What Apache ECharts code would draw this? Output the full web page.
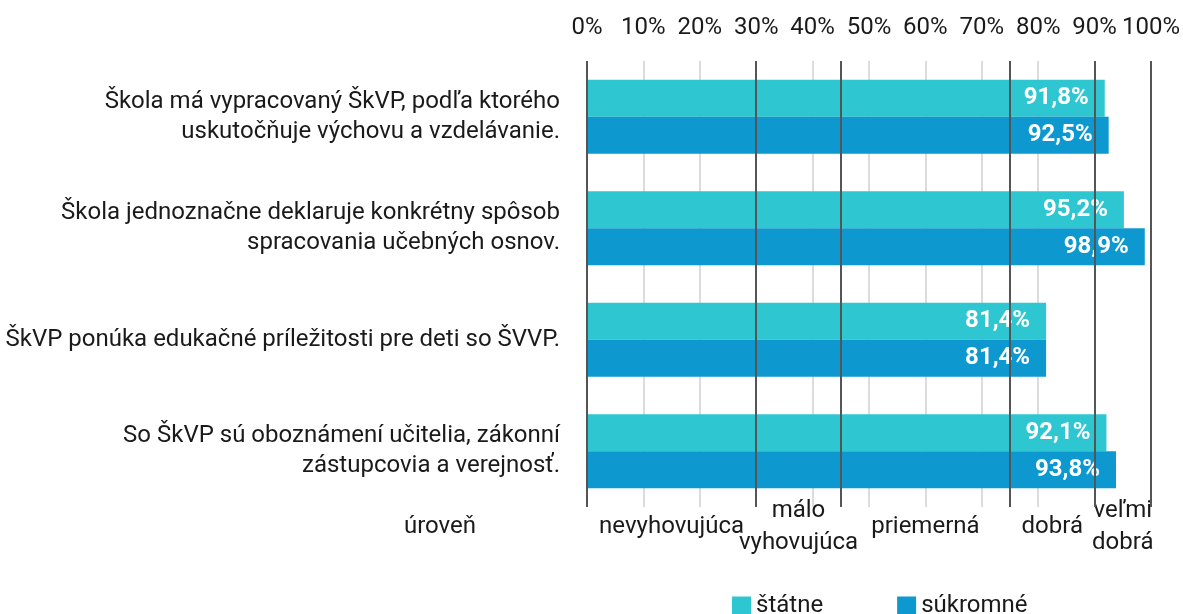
<!DOCTYPE html>
<html>
<head>
<meta charset="utf-8">
<style>
  html, body { margin: 0; padding: 0; background: #fff; }
  #chart { width: 1183px; height: 614px; }
</style>
<script src="https://cdn.jsdelivr.net/npm/echarts@6/dist/echarts.min.js"></script>
</head>
<body>
<div id="chart"></div>
<script>
var categories = [
  'Škola má vypracovaný ŠkVP, podľa ktorého\nuskutočňuje výchovu a vzdelávanie.',
  'Škola jednoznačne deklaruje konkrétny spôsob\nspracovania učebných osnov.',
  'ŠkVP ponúka edukačné príležitosti pre deti so ŠVVP.',
  'So ŠkVP sú oboznámení učitelia, zákonní\nzástupcovia a verejnosť.'
];
var statneValues = [91.8, 95.2, 81.4, 92.1];
var sukromneValues = [92.5, 98.9, 81.4, 93.8];
var thresholds = [0, 30, 45, 75, 90, 100];
var levelNames = ['nevyhovujúca', 'málo\nvyhovujúca', 'priemerná', 'dobrá', 'veľmi\ndobrá'];
var levelCenters = [15, 37.5, 60, 82.5, 95];

var FONT = 'Roboto';
var chart = echarts.init(document.getElementById('chart'));

function fmtPct(v) {
  return v.toFixed(1).replace('.', ',') + '%';
}

// level labels split over two bottom axes so neighbours are not dropped as overlapping
function levelAxis(values) {
  return {
    type: 'value',
    position: 'bottom',
    min: 0,
    max: 100,
    axisLine: { show: false },
    axisTick: { show: false },
    splitLine: { show: false },
    axisLabel: {
      customValues: values,
      formatter: function (v) {
        var i = levelCenters.indexOf(v);
        return i >= 0 ? levelNames[i] : '';
      },
      fontSize: 24,
      lineHeight: 32,
      color: '#1a1a1a',
      verticalAlign: 'middle',
      margin: 20
    }
  };
}

var option = {
  animation: false,
  textStyle: { fontFamily: FONT },
  grid: { left: 587, right: 30, top: 61, bottom: 107, containLabel: false },
  legend: {
    data: ['štátne', 'súkromné'],
    left: 727,
    top: 589,
    icon: 'rect',
    itemWidth: 19,
    itemHeight: 19,
    itemGap: 74,
    textStyle: { fontSize: 24, color: '#1a1a1a', fontFamily: FONT }
  },
  xAxis: [{
    type: 'value',
    position: 'top',
    min: 0,
    max: 100,
    interval: 10,
    axisLine: { show: false },
    axisTick: { show: false },
    axisLabel: { formatter: '{value}%', fontSize: 24, color: '#1a1a1a', margin: 21 },
    splitLine: { show: true, lineStyle: { color: '#dcdcdc', width: 2 } }
  },
    levelAxis([levelCenters[0], levelCenters[2], levelCenters[4]]),
    levelAxis([levelCenters[1], levelCenters[3]])
  ],
  yAxis: {
    type: 'category',
    inverse: true,
    data: categories,
    axisLine: { show: false },
    axisTick: { show: false },
    axisLabel: { fontSize: 24, lineHeight: 30, color: '#1a1a1a', align: 'right', margin: 27 }
  },
  graphic: [{
    type: 'text',
    x: 440,
    y: 527,
    style: {
      text: 'úroveň',
      font: '24px ' + FONT,
      fill: '#1a1a1a',
      textAlign: 'center',
      textVerticalAlign: 'middle'
    }
  }],
  series: [{
    name: 'štátne',
    type: 'bar',
    data: statneValues,
    barWidth: 37,
    barGap: '0%',
    itemStyle: { color: '#2ec6d1' },
    label: {
      show: true,
      position: 'insideRight',
      distance: 16,
      color: '#fff',
      fontSize: 24,
      fontWeight: 'bold',
      formatter: function (p) { return fmtPct(p.value); }
    }
  }, {
    name: 'súkromné',
    type: 'bar',
    data: sukromneValues,
    barWidth: 37,
    barGap: '0%',
    itemStyle: { color: '#0e98d0' },
    label: {
      show: true,
      position: 'insideRight',
      distance: 16,
      color: '#fff',
      fontSize: 24,
      fontWeight: 'bold',
      formatter: function (p) { return fmtPct(p.value); }
    },
    markLine: {
      silent: true,
      symbol: 'none',
      label: { show: false },
      lineStyle: { color: '#555', width: 2, type: 'solid' },
      data: thresholds.map(function (t) { return { xAxis: t }; })
    }
  }]
};
chart.setOption(option);
</script>
</body>
</html>
